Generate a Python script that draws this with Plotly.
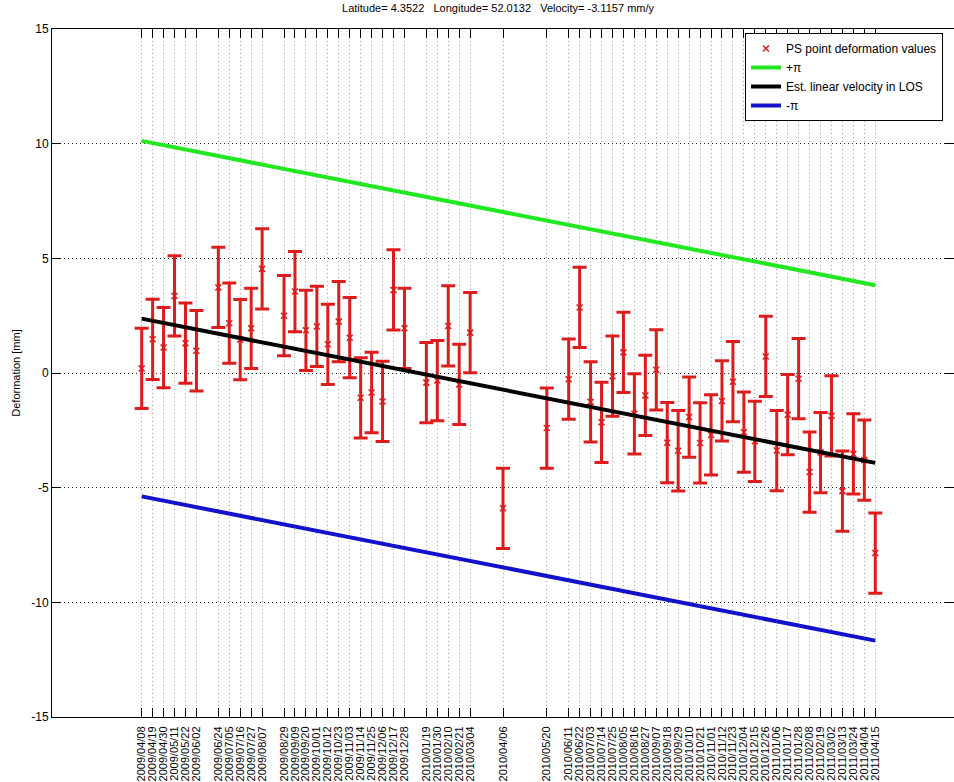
import plotly.graph_objects as go

# Acquisition dates of the SAR scenes
dates = [
    "2009/04/08", "2009/04/19", "2009/04/30", "2009/05/11", "2009/05/22", "2009/06/02",
    "2009/06/24", "2009/07/05", "2009/07/16", "2009/07/27", "2009/08/07",
    "2009/08/29", "2009/09/09", "2009/09/20", "2009/10/01", "2009/10/12", "2009/10/23",
    "2009/11/03", "2009/11/14", "2009/11/25", "2009/12/06", "2009/12/17", "2009/12/28",
    "2010/01/19", "2010/01/30", "2010/02/10", "2010/02/21", "2010/03/04",
    "2010/04/06", "2010/05/20",
    "2010/06/11", "2010/06/22", "2010/07/03", "2010/07/14", "2010/07/25", "2010/08/05",
    "2010/08/16", "2010/08/27", "2010/09/07", "2010/09/18", "2010/09/29", "2010/10/10",
    "2010/10/21", "2010/11/01", "2010/11/12", "2010/11/23", "2010/12/04", "2010/12/15",
    "2010/12/26", "2011/01/06", "2011/01/17", "2011/01/28", "2011/02/08", "2011/02/19",
    "2011/03/02", "2011/03/13", "2011/03/24", "2011/04/04", "2011/04/15",
]

# PS point deformation per acquisition [mm]
deformation_mm = [
    0.20, 1.47, 1.11, 3.36, 1.30, 0.97,
    3.73, 2.17, 1.46, 1.95, 4.54,
    2.50, 3.55, 1.86, 2.03, 1.25, 2.24,
    1.54, -1.08, -0.85, -1.24, 3.62, 1.95,
    -0.42, -0.33, 2.05, -0.50, 1.76,
    -5.90, -2.40,
    -0.27, 2.86, -1.26, -2.15, -0.14, 0.90,
    -1.78, -0.98, 0.14, -3.04, -3.39, -1.92,
    -3.05, -2.70, -1.22, -0.38, -2.58, -2.98,
    0.72, -3.38, -1.82, -0.25, -4.32, -3.47,
    -1.87, -5.15, -3.53, -3.80, -7.85,
]

# Measurement uncertainty (half length of the error bars) [mm]
ERR_MM = 1.75

# Linear LOS model and the +/- pi ambiguity bounds, at first and last date [mm]
line_dates = ["2009/04/08", "2011/04/15"]
plus_pi_mm = [10.12, 3.83]
los_fit_mm = [2.37, -3.92]
minus_pi_mm = [-5.38, -11.67]

y_ticks = [-15, -10, -5, 0, 5, 10, 15]
y_tick_text = ["-15", "-10", "-5", "0", "5", "10", "15"]

title_text = "Latitude=\u00a04.3522\u00a0\u00a0\u00a0Longitude=\u00a052.0132\u00a0\u00a0\u00a0Velocity=\u00a0-3.1157\u00a0mm/y"

RED = "rgb(222,28,28)"
GREEN = "rgb(34,232,34)"
BLACK = "rgb(0,0,0)"
BLUE = "rgb(18,18,205)"
FONT = "Liberation Sans, Arial, Helvetica, sans-serif"


def to_iso(d):
    return d.replace("/", "-")


x_iso = [to_iso(d) for d in dates]
line_x = [to_iso(d) for d in line_dates]

fig = go.Figure()

fig.add_trace(go.Scatter(
    x=x_iso, y=deformation_mm, mode="markers",
    name="PS point deformation values",
    legendgroup="ps",
    marker=dict(symbol="x-thin", size=6, color=RED, line=dict(width=1.5, color=RED)),
    error_y=dict(type="constant", value=ERR_MM, color=RED, thickness=3, width=7),
))
fig.add_trace(go.Scatter(
    x=line_x, y=plus_pi_mm, mode="lines", name="+\u03c0", legendgroup="pp",
    line=dict(color=GREEN, width=4),
))
fig.add_trace(go.Scatter(
    x=line_x, y=los_fit_mm, mode="lines", name="Est. linear velocity in LOS", legendgroup="los",
    line=dict(color=BLACK, width=4),
))
fig.add_trace(go.Scatter(
    x=line_x, y=minus_pi_mm, mode="lines", name="-\u03c0", legendgroup="mp",
    line=dict(color=BLUE, width=4),
))

fig.update_layout(
    width=954, height=782,
    margin=dict(l=52, r=0, t=29, b=65),
    paper_bgcolor="white", plot_bgcolor="white",
    font=dict(family=FONT, size=11, color="black"),
    title=dict(text=title_text, x=0.4945, xref="paper", xanchor="center",
               y=1 - 8 / 782, yref="container", yanchor="middle",
               font=dict(family=FONT, size=11, color="black")),
    showlegend=True,
    legend=dict(x=(745 - 52) / 902, y=1 - 4 / 688, xanchor="left", yanchor="top",
                bgcolor="white", bordercolor="black", borderwidth=1,
                font=dict(family=FONT, size=12, color="black"),
                tracegroupgap=2, traceorder="normal"),
)

fig.update_xaxes(
    type="date",
    range=["2009-01-07 21:36", "2011-07-03 02:24"],
    tickmode="array", tickvals=x_iso, ticktext=dates, tickangle=-90,
    tickfont=dict(family=FONT, size=11, color="black"),
    ticks="inside", ticklen=9, tickwidth=1, tickcolor="black",
    ticklabelstandoff=4,
    showline=True, linecolor="black", linewidth=1, mirror="allticks",
    showgrid=True, gridcolor="rgba(0,0,0,0.38)", griddash="1px,3px", gridwidth=1,
    zeroline=False,
)
fig.update_yaxes(
    range=[-15, 15],
    tickmode="array", tickvals=y_ticks, ticktext=y_tick_text,
    tickfont=dict(family=FONT, size=12, color="black"),
    ticks="inside", ticklen=9, tickwidth=1, tickcolor="black",
    showline=True, linecolor="black", linewidth=1, mirror="allticks",
    showgrid=True, gridcolor="rgba(0,0,0,0.85)", griddash="1px,3px", gridwidth=1,
    zeroline=False,
    title=dict(text="Deformation [mm]", standoff=8,
               font=dict(family=FONT, size=11, color="black")),
)

fig.write_html("out.html")
